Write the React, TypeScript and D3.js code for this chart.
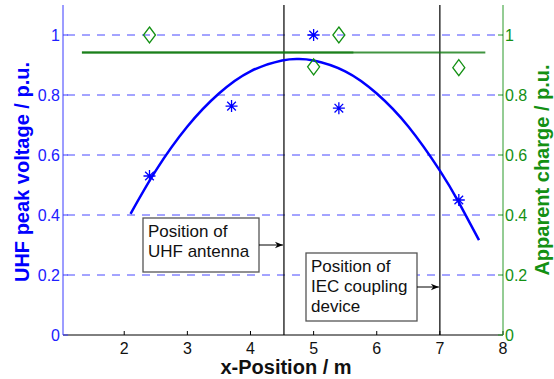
import React, { useRef, useEffect } from "react";
import * as d3 from "d3";

const WIDTH = 554;
const HEIGHT = 379;
const MARGIN = { top: 5, right: 51, bottom: 44, left: 63 };
const FONT = "'Liberation Sans', Arial, Helvetica, sans-serif";

const BLUE = "#0000ff";
const BLUE_TEXT = "#2020ff";
const GREEN = "#117a11";
const GREEN_TEXT = "#139013";

// axis ticks
const xTicks = [2, 3, 4, 5, 6, 7, 8];
const yTicks = [0, 0.2, 0.4, 0.6, 0.8, 1];
const gridTicks = [0.2, 0.4, 0.6, 0.8, 1];

// UHF peak voltage measurements (asterisks)
const uhfX = [2.4, 3.7, 5.0, 5.4, 7.3];
const uhfY = [0.53, 0.763, 1.0, 0.756, 0.45];

// apparent charge measurements (diamonds)
const chargeX = [2.4, 5.0, 5.4, 7.3];
const chargeY = [1.0, 0.894, 1.0, 0.891];

// fitted UHF curve
const curveX = [2.1, 2.5, 3.0, 3.5, 4.0, 4.5, 4.75, 5.0, 5.5, 6.0, 6.5, 7.0, 7.3, 7.62];
const curveY = [0.404, 0.548, 0.695, 0.805, 0.879, 0.915, 0.92, 0.915, 0.879, 0.805, 0.695, 0.548, 0.442, 0.316];

// apparent charge mean line (two overlapping segments)
const chargeLineX = [
  [1.33, 7.72],
  [1.33, 5.63],
];
const chargeLineY = 0.942;

// vertical position markers
const markerX = [4.53, 7.0];

// annotations
const annotations = [
  { lines: ["Position of", "UHF antenna"], x0: 143, y0: 218, w: 116, h: 54, arrowY: 245, target: 4.53 },
  { lines: ["Position of", "IEC coupling", "device"], x0: 306, y0: 253, w: 111, h: 68, arrowY: 287, target: 7.0 },
];

export default function App() {
  const svgRef = useRef<SVGSVGElement>(null);

  useEffect(() => {
    const svg = d3.select(svgRef.current);
    svg.selectAll("*").remove();

    const x = d3
      .scaleLinear()
      .domain([1.03, 8])
      .range([MARGIN.left, WIDTH - MARGIN.right]);
    const y = d3
      .scaleLinear()
      .domain([0, 1.1])
      .range([HEIGHT - MARGIN.bottom, MARGIN.top]);

    const [x0, x1] = x.range();
    const [yb, yt] = y.range();

    svg.append("rect").attr("width", WIDTH).attr("height", HEIGHT).attr("fill", "#fff");

    // dashed grid
    svg
      .selectAll(".grid")
      .data(gridTicks)
      .join("line")
      .attr("x1", x0)
      .attr("x2", x1)
      .attr("y1", (d) => y(d))
      .attr("y2", (d) => y(d))
      .attr("stroke", "#4848ff")
      .attr("stroke-width", 1)
      .attr("stroke-dasharray", "8,7")
      .attr("stroke-dashoffset", -4);

    // vertical markers
    svg
      .selectAll(".vline")
      .data(markerX)
      .join("line")
      .attr("x1", (d) => x(d))
      .attr("x2", (d) => x(d))
      .attr("y1", yb)
      .attr("y2", yt)
      .attr("stroke", "#000")
      .attr("stroke-width", 1.2);

    // green charge line
    svg
      .selectAll(".cline")
      .data(chargeLineX)
      .join("line")
      .attr("x1", (d) => x(d[0]))
      .attr("x2", (d) => x(d[1]))
      .attr("y1", y(chargeLineY))
      .attr("y2", y(chargeLineY))
      .attr("stroke", GREEN)
      .attr("stroke-width", 2)
      .attr("stroke-opacity", 0.8);

    // UHF curve
    const line = d3
      .line<number>()
      .x((d, i) => x(curveX[i]))
      .y((d) => y(d))
      .curve(d3.curveNatural);
    svg
      .append("path")
      .attr("d", line(curveY))
      .attr("fill", "none")
      .attr("stroke", BLUE)
      .attr("stroke-width", 2.5);

    // asterisks
    const r = 6;
    const rd = r * 0.72;
    svg
      .selectAll(".ast")
      .data(uhfX)
      .join("path")
      .attr("transform", (d, i) => `translate(${x(d)},${y(uhfY[i])})`)
      .attr(
        "d",
        `M${-r},0H${r}M0,${-r}V${r}M${-rd},${-rd}L${rd},${rd}M${-rd},${rd}L${rd},${-rd}`,
      )
      .attr("stroke", BLUE)
      .attr("stroke-width", 1.3)
      .attr("fill", "none");

    // diamonds
    svg
      .selectAll(".dia")
      .data(chargeX)
      .join("path")
      .attr("transform", (d, i) => `translate(${x(d)},${y(chargeY[i])})`)
      .attr("d", "M0,-8L6,0L0,8L-6,0Z")
      .attr("stroke", GREEN_TEXT)
      .attr("stroke-width", 1.3)
      .attr("fill", "none");

    // bottom axis
    svg
      .append("line")
      .attr("x1", x0)
      .attr("x2", x1)
      .attr("y1", yb)
      .attr("y2", yb)
      .attr("stroke", "#000");
    svg
      .selectAll(".xtick")
      .data(xTicks)
      .join("line")
      .attr("x1", (d) => x(d))
      .attr("x2", (d) => x(d))
      .attr("y1", yb)
      .attr("y2", yb - 4)
      .attr("stroke", "#000");
    svg
      .selectAll(".xlab")
      .data(xTicks)
      .join("text")
      .attr("x", (d) => x(d))
      .attr("y", yb + 19)
      .attr("text-anchor", "middle")
      .attr("font-family", FONT)
      .attr("font-size", 16)
      .attr("fill", "#111")
      .text((d) => d);

    // left axis
    svg
      .append("line")
      .attr("x1", x0)
      .attr("x2", x0)
      .attr("y1", yb)
      .attr("y2", yt)
      .attr("stroke", "#3a3aff");
    svg
      .selectAll(".ltick")
      .data(yTicks)
      .join("line")
      .attr("x1", x0)
      .attr("x2", x0 + 5)
      .attr("y1", (d) => y(d))
      .attr("y2", (d) => y(d))
      .attr("stroke", "#3a3aff");
    svg
      .selectAll(".llab")
      .data(yTicks)
      .join("text")
      .attr("x", x0 - 3)
      .attr("y", (d) => y(d))
      .attr("dy", "0.35em")
      .attr("text-anchor", "end")
      .attr("font-family", FONT)
      .attr("font-size", 16)
      .attr("fill", BLUE_TEXT)
      .text((d) => d);

    // right axis
    svg
      .append("line")
      .attr("x1", x1)
      .attr("x2", x1)
      .attr("y1", yb)
      .attr("y2", yt)
      .attr("stroke", "#2a9a2a");
    svg
      .selectAll(".rtick")
      .data(yTicks)
      .join("line")
      .attr("x1", x1)
      .attr("x2", x1 - 5)
      .attr("y1", (d) => y(d))
      .attr("y2", (d) => y(d))
      .attr("stroke", "#2a9a2a");
    svg
      .selectAll(".rlab")
      .data(yTicks)
      .join("text")
      .attr("x", x1 + 2)
      .attr("y", (d) => y(d))
      .attr("dy", "0.35em")
      .attr("font-family", FONT)
      .attr("font-size", 16)
      .attr("fill", GREEN_TEXT)
      .text((d) => d);

    // axis titles
    svg
      .append("text")
      .attr("x", (x0 + x1) / 2 + 3)
      .attr("y", HEIGHT - 5)
      .attr("text-anchor", "middle")
      .attr("font-family", FONT)
      .attr("font-weight", "bold")
      .attr("font-size", 20)
      .attr("fill", "#111")
      .text("x-Position / m");
    svg
      .append("text")
      .attr("transform", `translate(29,${(yb + yt) / 2 + 2}) rotate(-90)`)
      .attr("text-anchor", "middle")
      .attr("font-family", FONT)
      .attr("font-weight", "bold")
      .attr("font-size", 20)
      .attr("fill", BLUE)
      .text("UHF peak voltage / p.u.");
    svg
      .append("text")
      .attr("transform", `translate(549,${(yb + yt) / 2}) rotate(-90)`)
      .attr("text-anchor", "middle")
      .attr("font-family", FONT)
      .attr("font-weight", "bold")
      .attr("font-size", 20)
      .attr("fill", GREEN_TEXT)
      .text("Apparent charge / p.u.");

    // annotation boxes with arrows
    const defs = svg.append("defs");
    defs
      .append("marker")
      .attr("id", "arr")
      .attr("viewBox", "0 0 10 10")
      .attr("refX", 10)
      .attr("refY", 5)
      .attr("markerWidth", 10)
      .attr("markerHeight", 8)
      .attr("markerUnits", "userSpaceOnUse")
      .attr("orient", "auto")
      .append("path")
      .attr("d", "M0,1L10,5L0,9L3,5Z")
      .attr("fill", "#000");

    annotations.forEach((a) => {
      const g = svg.append("g");
      g.append("rect")
        .attr("x", a.x0)
        .attr("y", a.y0)
        .attr("width", a.w)
        .attr("height", a.h)
        .attr("fill", "#fff")
        .attr("stroke", "#555")
        .attr("stroke-width", 1.3);
      g.append("line")
        .attr("x1", a.x0 + a.w)
        .attr("x2", x(a.target) - 1)
        .attr("y1", a.arrowY)
        .attr("y2", a.arrowY)
        .attr("stroke", "#000")
        .attr("marker-end", "url(#arr)");
      a.lines.forEach((t, i) => {
        g.append("text")
          .attr("x", a.x0 + 5)
          .attr("y", a.y0 + 19 + i * 20)
          .attr("font-family", FONT)
          .attr("font-size", 17)
          .attr("fill", "#111")
          .text(t);
      });
    });
  }, []);

  return (
    <div style={{ position: "fixed", left: 0, top: 0 }}>
      <svg ref={svgRef} width={WIDTH} height={HEIGHT} style={{ display: "block" }} />
    </div>
  );
}
